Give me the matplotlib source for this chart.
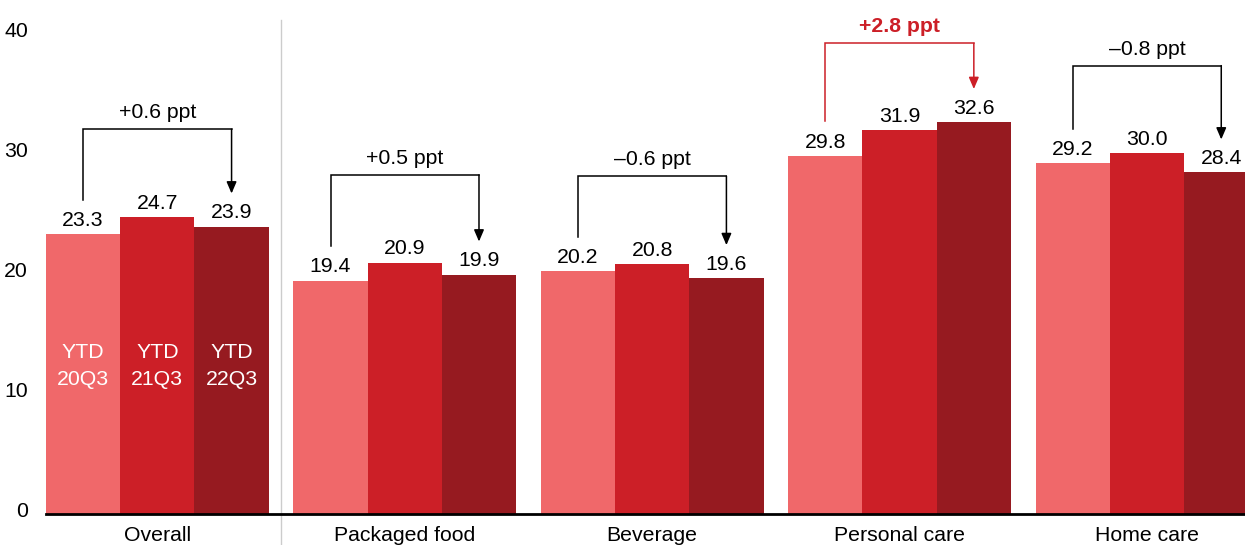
import numpy as np
import matplotlib.pyplot as plt
import matplotlib.transforms as mtransforms

plt.rcParams['font.family'] = ['Liberation Sans', 'DejaVu Sans']

categories = ["Overall", "Packaged food", "Beverage", "Personal care", "Home care"]
periods = ["YTD\n20Q3", "YTD\n21Q3", "YTD\n22Q3"]
ytd20 = [23.3, 19.4, 20.2, 29.8, 29.2]
ytd21 = [24.7, 20.9, 20.8, 31.9, 30.0]
ytd22 = [23.9, 19.9, 19.6, 32.6, 28.4]
changes = ["+0.6 ppt", "+0.5 ppt", "\u20130.6 ppt", "+2.8 ppt", "\u20130.8 ppt"]
highlight = [False, False, False, True, False]

colors = ["#F0686A", "#CC1F27", "#961A20"]
width = 0.3

fig = plt.figure(figsize=(12.45, 5.45), dpi=100)
ax = fig.add_axes([46 / 1245, 31.5 / 545, 1199 / 1245, 493.5 / 545])

x = np.arange(len(categories))
series = [ytd20, ytd21, ytd22]
for i, vals in enumerate(series):
    xs = x + (i - 1) * width
    ax.bar(xs, vals, width=width, color=colors[i], linewidth=0, zorder=2)
    for xi, v in zip(xs, vals):
        ax.annotate(f"{v:.1f}", (xi, v), xytext=(0, 3), textcoords="offset points",
                    ha="center", va="bottom", fontsize=15.3, color="black")

# period labels inside the Overall bars
for i, lab in enumerate(periods):
    ax.text(x[0] + (i - 1) * width, 12.3, lab, ha="center", va="center",
            fontsize=15.3, color="white", linespacing=1.5, zorder=3)

# change brackets from first to last period
for k in range(len(categories)):
    x1 = x[k] - width
    x3 = x[k] + width
    top = min(max(ytd20[k], ytd21[k], ytd22[k]) + 7.3, 39.15)
    start = ytd20[k] + 2.85
    tip = ytd22[k] + 2.75
    col = colors[1] if highlight[k] else "black"
    ax.plot([x1, x1, x3], [start, top, top], color=col, lw=1.1, zorder=3,
            solid_joinstyle="miter")
    ax.annotate("", xy=(x3, tip), xytext=(x3, top),
                arrowprops=dict(arrowstyle="-|>,head_length=0.7,head_width=0.3",
                                color=col, lw=1.1, shrinkA=0, shrinkB=0))
    ax.annotate(changes[k], ((x1 + x3) / 2, top), xytext=(0, 5),
                textcoords="offset points", ha="center", va="bottom",
                fontsize=15.3, color=col,
                fontweight="bold" if highlight[k] else "normal")

# divider between Overall and the categories
ax.plot([0.5, 0.5], [-2.65, 41.1], color="#CCCCCC", lw=1, clip_on=False, zorder=1)

ax.set_xlim(-0.45, (1245 - 157) / 247.5)
ax.set_ylim(0, 41.1)
ax.set_yticks([0, 10, 20, 30, 40])
ax.set_xticks(x)
ax.set_xticklabels(categories)
ax.tick_params(axis="both", length=0, labelsize=15.3, colors="black")
ax.tick_params(axis="y", pad=13)
ax.tick_params(axis="x", pad=9)
lift = mtransforms.ScaledTranslation(0, 3 / 72, fig.dpi_scale_trans)
for lab in ax.get_yticklabels():
    lab.set_transform(lab.get_transform() + lift)
for s in ["left", "right", "top"]:
    ax.spines[s].set_visible(False)
ax.spines["bottom"].set_linewidth(2)
ax.spines["bottom"].set_zorder(4)

fig.savefig("out.png", dpi=100)
